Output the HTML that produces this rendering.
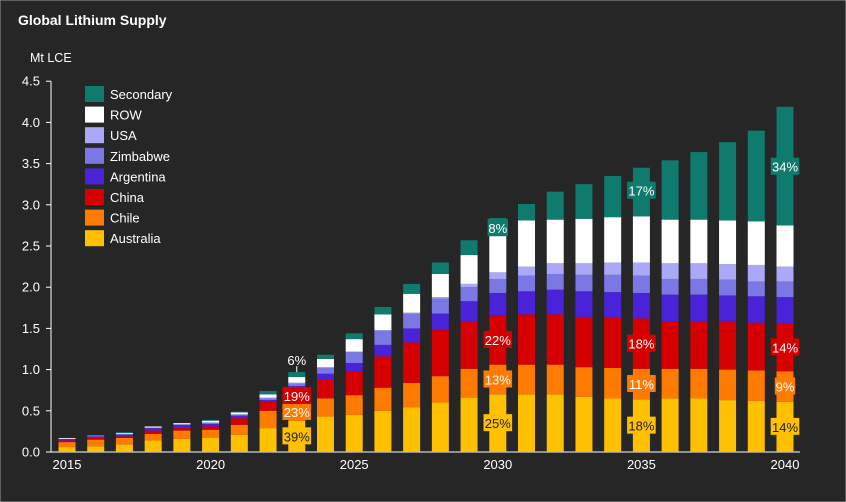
<!DOCTYPE html>
<html><head><meta charset="utf-8"><style>
html,body{margin:0;padding:0;background:#262626;}
svg{display:block;font-family:"Liberation Sans",sans-serif;}
</style></head><body>
<svg id="chart" width="846" height="502" viewBox="0 0 846 502">
<rect x="0" y="0" width="846" height="502" fill="#262626" stroke="#9a9a9a" stroke-width="1"/>
<text x="18" y="25" fill="#fff" font-size="14" font-weight="bold">Global Lithium Supply</text>
<text x="30" y="62" fill="#fff" font-size="12.5">Mt LCE</text>
<g id="axes"></g>
<g id="bars"></g>
<g id="labels"></g>
<g id="legend"></g>
</svg>
<script>
const years = [2015,2016,2017,2018,2019,2020,2021,2022,2023,2024,2025,2026,2027,2028,2029,2030,2031,2032,2033,2034,2035,2036,2037,2038,2039,2040];
const seriesNames = ["Australia","Chile","China","Argentina","Zimbabwe","USA","ROW","Secondary"];
const australia = [.06,.07,.09,.14,.16,.17,.21,.29,.38,.43,.45,.50,.54,.60,.66,.70,.70,.70,.67,.65,.64,.65,.65,.63,.62,.61];
const chile     = [.06,.08,.08,.08,.10,.10,.12,.21,.21,.22,.24,.28,.30,.32,.35,.36,.36,.36,.36,.37,.37,.36,.36,.37,.37,.37];
const china     = [.02,.02,.02,.04,.03,.04,.08,.11,.18,.23,.29,.38,.49,.56,.58,.60,.61,.61,.61,.61,.61,.58,.58,.58,.58,.58];
const argentina = [.02,.02,.02,.03,.04,.03,.03,.02,.03,.07,.10,.14,.17,.20,.24,.27,.28,.30,.31,.31,.31,.32,.32,.32,.32,.32];
const zimbabwe  = [0,0,.01,0,0,.01,.01,.02,.03,.07,.13,.17,.18,.18,.17,.17,.19,.19,.20,.21,.21,.19,.19,.19,.18,.19];
const usa       = [0,.01,0,.01,.01,.01,.01,.01,.01,.01,.01,.01,.01,.02,.04,.08,.11,.13,.14,.15,.16,.19,.19,.19,.20,.18];
const row       = [.01,0,.01,.01,.01,.02,.02,.04,.07,.10,.15,.19,.23,.28,.35,.44,.56,.53,.54,.55,.56,.53,.53,.53,.53,.50];
const secondary = [0,0,.01,0,0,.01,.01,.04,.06,.05,.07,.09,.12,.14,.18,.22,.20,.34,.42,.50,.59,.72,.82,.95,1.10,1.44];
const yTicks = [0,0.5,1,1.5,2,2.5,3,3.5,4,4.5];
const yTickLabels = ["0.0","0.5","1.0","1.5","2.0","2.5","3.0","3.5","4.0","4.5"];
const xTicks = [2015,2020,2025,2030,2035,2040];
const labelYears = [2023,2023,2023,2023,2030,2030,2030,2030,2035,2035,2035,2035,2040,2040,2040,2040];
const labelSeries = [0,1,2,7,0,1,2,7,0,1,2,7,0,1,2,7];
const labelTexts = ["39%","23%","19%","6%","25%","13%","22%","8%","18%","11%","18%","17%","14%","9%","14%","34%"];

const colors = ["#ffc000","#ff7b00","#d60000","#4a22d8","#7b78e6","#aba9f7","#ffffff","#0f7a6e"];
const textColors = ["#222","#fff","#fff","#fff","#fff","#222","#222","#fff"];
const allSeries = [australia,chile,china,argentina,zimbabwe,usa,row,secondary];
const NS = "http://www.w3.org/2000/svg";
const y0 = 452, yPerUnit = 82.4, x0 = 67, xPerYear = 28.72, barW = 17;
function yScale(v){ return y0 - v*yPerUnit; }
function xScale(yr){ return x0 + (yr-2015)*xPerYear; }
function mk(tag, attrs, parent){ const e=document.createElementNS(NS,tag); for(const k in attrs) e.setAttribute(k,attrs[k]); parent.appendChild(e); return e; }

const axes = document.getElementById("axes");
let a = mk("line",{x1:51,y1:yScale(4.5),x2:51,y2:y0,stroke:"#fff","stroke-width":1},axes);


a = mk("line",{x1:51,y1:y0,x2:800,y2:y0,stroke:"#fff","stroke-width":1},axes);


yTicks.forEach((v,i)=>{
  const t = mk("line",{x1:46,y1:yScale(v),x2:51,y2:yScale(v),stroke:"#fff"},axes);
  
  
  const l = mk("text",{x:40,y:yScale(v)+4.5,fill:"#fff","font-size":13,"text-anchor":"end"},axes);
  l.textContent = yTickLabels[i];
  
  
});
xTicks.forEach(yr=>{
  const l = mk("text",{x:xScale(yr),y:469,fill:"#fff","font-size":13,"text-anchor":"middle"},axes);
  l.textContent = yr;
  
  
});

const bars = document.getElementById("bars");
years.forEach((yr,i)=>{
  let cum = 0;
  allSeries.forEach((s,si)=>{
    const v = s[i];
    if(v>0){
      const r = mk("rect",{x:xScale(yr)-barW/2,y:yScale(cum+v),width:barW,height:v*yPerUnit,fill:colors[si]},bars);
      
      
    }
    cum += v;
  });
});

const labels = document.getElementById("labels");
labelYears.forEach((yr,k)=>{
  const i = years.indexOf(yr), si = labelSeries[k];
  let base = 0; for(let j=0;j<si;j++) base += allSeries[j][i];
  const v = allSeries[si][i];
  let cy = yScale(base + v/2);
  const cx = xScale(yr);
  const txt = labelTexts[k];
  const w = txt.length*8.2+4;
  if(yr===2023 && si===7){
    cy = yScale(base+v) - 12;
    const ln = mk("line",{x1:cx,y1:cy+6,x2:cx,y2:yScale(base+v),stroke:"#fff"},labels);
    
    
  } else {
    if(si===7) cy = yScale(base+v) + (yr===2030?10:yr===2035?23:60);
    const b = mk("rect",{x:cx-w/2,y:cy-9,width:w,height:17,fill:colors[si]},labels);
    
    
  }
  const t = mk("text",{x:cx,y:cy+5,fill:(yr===2023&&si===7)?"#fff":textColors[si],"font-size":13,"text-anchor":"middle"},labels);
  t.textContent = txt;
  
  
});

const legend = document.getElementById("legend");
for(let k=7;k>=0;k--){
  const idx = 7-k;
  const yy = 86 + idx*20.6;
  const sw = mk("rect",{x:85,y:yy,width:19,height:16,fill:colors[k]},legend);
  
  
  const t = mk("text",{x:110,y:yy+13,fill:"#fff","font-size":13},legend);
  t.textContent = seriesNames[k];
  
  
}
</script>
</body></html>
